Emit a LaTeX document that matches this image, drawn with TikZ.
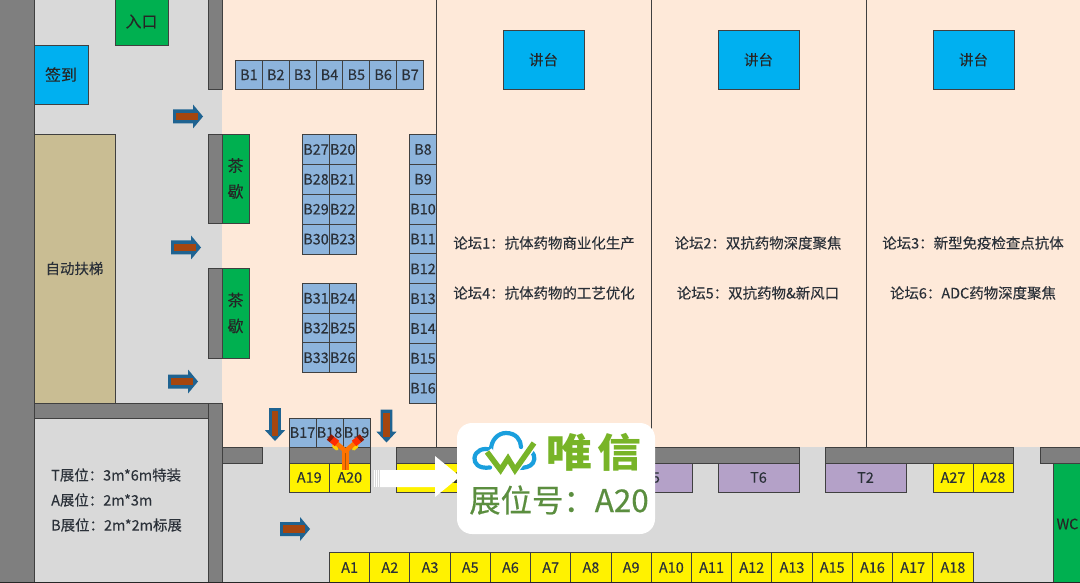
\documentclass[tikz,border=0pt]{standalone}
\usepackage{fontspec}
\usepackage{graphicx}
\setmainfont{Noto Sans CJK SC}
\newfontfamily\labelfont[FakeBold=0.15]{Noto Sans CJK SC}
\newfontfamily\badgefont[FakeBold=0.5]{Noto Sans CJK SC}
\definecolor{floorc}{HTML}{D9D9D9}
\definecolor{wallc}{HTML}{7F7F7F}
\definecolor{peach}{HTML}{FEE9D9}
\definecolor{lined}{HTML}{404040}
\definecolor{greenb}{HTML}{00B050}
\definecolor{blueb}{HTML}{00B0F0}
\definecolor{boothb}{HTML}{8DB4DC}
\definecolor{purp}{HTML}{B4A1C8}
\definecolor{tan}{HTML}{C9BD93}
\definecolor{txt}{HTML}{2A3038}
\definecolor{arrowblue}{HTML}{1F6391}
\definecolor{arrowbrown}{HTML}{A5460F}
\definecolor{logoblue}{HTML}{1A9FDD}
\definecolor{logogreen}{HTML}{78B428}
\definecolor{badgetext}{HTML}{5B8E3F}
\tikzset{
  cellbox/.style={draw=lined,line width=0.9bp,inner sep=0pt,outer sep=0pt,text=txt,font=\labelfont\fontsize{14.5}{16}\selectfont,align=center},
  wall/.style={cellbox,fill=wallc},
  greenbox/.style={cellbox,fill=greenb,text=black!85},
  bluebox/.style={cellbox,fill=blueb,text=black!85},
  bigtext/.style={font=\labelfont\fontsize{16}{18}\selectfont},
  boothB/.style={cellbox,fill=boothb},
  boothA/.style={cellbox,fill=yellow},
  boothT/.style={cellbox,fill=purp},
  esc/.style={cellbox,fill=tan},
  plain/.style={inner sep=0pt,text=txt,font=\labelfont\fontsize{14.5}{16}\selectfont},
  blockarrow/.pic={
    \fill[arrowblue] (-15,-7) -- (5,-7) -- (5,-12) -- (15,0) -- (5,12) -- (5,7) -- (-15,7) -- cycle;
    \fill[arrowbrown] (-12,-3.6) -- (10,-3.6) -- (10,3.6) -- (-12,3.6) -- cycle;
  }
}
% #1 style, #2 name, #3 x0, #4 y0, #5 x1, #6 y1, #7 text
\newcommand\boxat[7]{%
  \pgfmathsetmacro\bxw{#5-#3}\pgfmathsetmacro\bxh{#6-#4}%
  \pgfmathsetmacro\bxx{(#3+#5)/2}\pgfmathsetmacro\bxy{(#4+#6)/2}%
  \node[#1,minimum width=\bxw bp,minimum height=\bxh bp] (#2) at (\bxx,\bxy) {#7};%
}
\begin{document}
\begin{tikzpicture}[x=1bp,y=-1bp]
\useasboundingbox (0,0) rectangle (1080,583);
% floor and rooms
\fill[floorc] (0,0) rectangle (1080,583);
\fill[peach] (222,0) rectangle (1080,447);
\fill[wallc] (0,0) rectangle (34,583);
\draw[lined,line width=0.6bp] (34,0) -- (34,583);
\draw[lined,line width=0.9bp] (436.5,0) -- (436.5,463);
\draw[lined,line width=0.9bp] (651.5,0) -- (651.5,463);
\draw[lined,line width=0.9bp] (866,0) -- (866,463);
% entrance block
\boxat{greenbox,bigtext}{entry}{115}{-2}{168}{45}{入口}
\boxat{bluebox,bigtext}{signin}{34}{45}{88}{104}{签到}
\boxat{esc}{escalator}{34}{134}{115}{403}{自动扶梯}
% walls
\boxat{wall}{w1}{208}{-2}{222}{89}{}
\boxat{wall}{w2}{208}{134}{222}{223}{}
\boxat{wall}{w3}{208}{268}{222}{358}{}
\boxat{wall}{w4}{34}{403}{222}{418}{}
\boxat{wall}{w5}{208}{403}{222}{585}{}
\boxat{wall}{w6}{222}{447}{262}{463}{}
\boxat{wall}{w7}{289}{447}{370}{463}{}
\boxat{wall}{w8}{396}{447}{799}{463}{}
\boxat{wall}{w9}{825}{447}{1013}{463}{}
\boxat{wall}{w10}{1040}{447}{1082}{463}{}
% tea break
\boxat{greenbox,bigtext}{tea1}{222}{134}{249}{223}{茶\\[8bp]歇}
\boxat{greenbox,bigtext}{tea2}{222}{268}{249}{358}{茶\\[8bp]歇}
% B row
\foreach \t [count=\i from 0] in {B1,B2,B3,B4,B5,B6,B7} {
  \pgfmathsetmacro\xa{235.5+26.85*\i}\pgfmathsetmacro\xb{\xa+26.85}
  \boxat{boothB}{\t}{\xa}{60}{\xb}{89.5}{\t}
}
% B islands
\foreach \t [count=\i from 0] in {B27,B28,B29,B30} {
  \pgfmathsetmacro\ya{134.5+29.9*\i}\pgfmathsetmacro\yb{\ya+29.9}
  \boxat{boothB}{\t}{302.5}{\ya}{329.5}{\yb}{\t}
}
\foreach \t [count=\i from 0] in {B20,B21,B22,B23} {
  \pgfmathsetmacro\ya{134.5+29.9*\i}\pgfmathsetmacro\yb{\ya+29.9}
  \boxat{boothB}{\t}{329.5}{\ya}{356}{\yb}{\t}
}
\foreach \t [count=\i from 0] in {B31,B32,B33} {
  \pgfmathsetmacro\ya{283.5+29.7*\i}\pgfmathsetmacro\yb{\ya+29.7}
  \boxat{boothB}{\t}{302.5}{\ya}{329.5}{\yb}{\t}
}
\foreach \t [count=\i from 0] in {B24,B25,B26} {
  \pgfmathsetmacro\ya{283.5+29.7*\i}\pgfmathsetmacro\yb{\ya+29.7}
  \boxat{boothB}{\t}{329.5}{\ya}{356}{\yb}{\t}
}
\foreach \t [count=\i from 0] in {B8,B9,B10,B11,B12,B13,B14,B15,B16} {
  \pgfmathsetmacro\ya{134.5+29.85*\i}\pgfmathsetmacro\yb{\ya+29.85}
  \boxat{boothB}{\t}{409.5}{\ya}{436.5}{\yb}{\t}
}
\foreach \t [count=\i from 0] in {B17,B18,B19} {
  \pgfmathsetmacro\xa{289+27*\i}\pgfmathsetmacro\xb{\xa+27}
  \boxat{boothB}{\t}{\xa}{418}{\xb}{447}{\t}
}
% A booths
\boxat{boothA}{A19}{289}{463}{329.5}{492}{A19}
\boxat{boothA}{A20}{329.5}{463}{370}{492}{A20}
\boxat{boothA}{A21}{396}{463}{437}{492}{}
\boxat{boothA}{A22}{437}{463}{477}{492}{A22}
\boxat{boothT}{T5}{611}{463}{692}{492}{T5}
\boxat{boothT}{T6}{718}{463}{799}{492}{T6}
\boxat{boothT}{T2}{825}{463}{906}{492}{T2}
\boxat{boothA}{A27}{933}{463}{973}{492}{A27}
\boxat{boothA}{A28}{973}{463}{1013}{492}{A28}
\boxat{greenbox}{wc}{1053}{463}{1082}{585}{\makebox[0pt][c]{WC}}
\foreach \t [count=\i from 0] in {A1,A2,A3,A5,A6,A7,A8,A9,A10,A11,A12,A13,A15,A16,A17,A18} {
  \pgfmathsetmacro\xa{329.5+40.22*\i}\pgfmathsetmacro\xb{\xa+40.22}
  \boxat{boothA}{\t}{\xa}{552}{\xb}{583}{\t}
}
\draw[black!85,line width=1bp] (0,582.5) -- (1080,582.5);
% lecterns
\boxat{bluebox}{stage1}{503}{30}{584}{89.5}{讲台}
\boxat{bluebox}{stage2}{718}{30}{799}{89.5}{讲台}
\boxat{bluebox}{stage3}{933}{30}{1014}{89.5}{讲台}
% forum captions
\node[plain] (f1) at (544,243) {论坛1：抗体药物商业化生产};
\node[plain] (f4) at (544,293) {论坛4：抗体药物的工艺优化};
\node[plain] (f2) at (758,243) {论坛2：双抗药物深度聚焦};
\node[plain] (f5) at (758,293) {论坛5：双抗药物\&新风口};
\node[plain] (f3) at (973,243) {论坛3：新型免疫检查点抗体};
\node[plain] (f6) at (973,293) {论坛6：ADC药物深度聚焦};
% legend
\node[plain,anchor=west] (l1) at (51,475) {T展位：3m*6m特装};
\node[plain,anchor=west] (l2) at (51,500) {A展位：2m*3m};
\node[plain,anchor=west] (l3) at (51,525) {B展位：2m*2m标展};
% direction arrows
\pic at (188,116.5) {blockarrow};
\pic at (186,247.5) {blockarrow};
\pic at (183,381.5) {blockarrow};
\pic at (295,529) {blockarrow};
\pic[rotate=-90,yscale=0.85,xscale=1.1] at (275,424.5) {blockarrow};
\pic[rotate=-90,yscale=0.85,xscale=1.1] at (386.5,426) {blockarrow};
% antibody icon
\draw[line width=3.4bp,color=yellow!70!orange,line cap=round] (333.5,446) -- (337,449);
\draw[line width=3.4bp,color=yellow!70!orange,line cap=round] (353.5,449) -- (357,446);
\draw[line width=4.5bp,color=orange!90!red,line join=round] (335,442) -- (345.5,451) -- (356,442);
\draw[line width=7bp,color=orange!90!red] (345.5,449) -- (345.5,470);
\draw[line width=0.6bp,color=orange!70!black] (345.5,453) -- (345.5,470);
\draw[line width=7bp,color=red!65!orange] (337,443.5) -- (332,439.5);
\draw[line width=7bp,color=red!65!orange] (354,443.5) -- (359,439.5);
\draw[line width=7bp,color=red!50!black!80!orange] (332,439.5) -- (329,437);
\draw[line width=7bp,color=red!50!black!80!orange] (359,439.5) -- (362,437);
% white pointer
\fill[white] (380,470) -- (435,470) -- (435,456) -- (460,476.5) -- (435,497) -- (435,487) -- (380,487) -- cycle;
\foreach \x in {373.5,375.8,378} { \fill[white] (\x,470) rectangle (\x+1.1,487); }
% badge
\node[fill=white,rounded corners=15bp,inner sep=0pt,minimum width=198bp,minimum height=111bp] (badge) at (556,478.5) {};
\draw[logoblue,line width=4.2bp,line cap=round] (490,467.5) .. controls (478,469) and (474,463) .. (474.5,458) .. controls (475,451) and (483,447) .. (491,450) .. controls (491,440) and (498,433) .. (506,433) .. controls (516,433) and (521,440) .. (521,447);
\draw[logoblue,line width=4.2bp,line cap=round] (528,449) .. controls (534,452) and (536,458) .. (533,463) .. controls (530,467) and (525,468) .. (518,468);
\draw[white,line width=9bp] (488,451) -- (501,469) -- (508,458) -- (515,469) -- (533,444);
\draw[logogreen,line width=5.5bp,miter limit=4] (487,452) -- (500.5,470) -- (508,458.5) -- (515,470) -- (534,443);
\node[inner sep=0pt,text=logogreen,font=\fontsize{40}{42}\selectfont\bfseries] (wei) at (569,452) {\scalebox{1.15}[1]{唯}};
\node[inner sep=0pt,text=logogreen,font=\fontsize{40}{42}\selectfont\bfseries] (xin) at (619,452) {\scalebox{1.1}[1]{信}};
\node[inner sep=0pt,text=badgetext,font=\badgefont\fontsize{31.5}{33}\selectfont] (booth) at (559,500) {展位号：A20};
\end{tikzpicture}
\end{document}
